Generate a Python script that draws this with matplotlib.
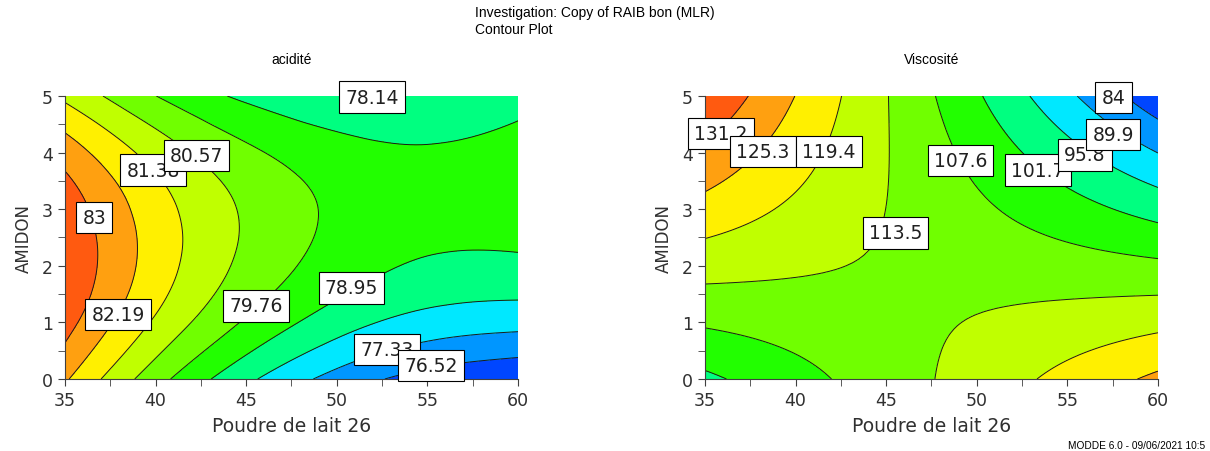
import numpy as np
import matplotlib
matplotlib.use("Agg")
import matplotlib.pyplot as plt
import matplotlib.tri as mtri
from matplotlib.ticker import MultipleLocator

# grille (lignes = AMIDON, colonnes = Poudre de lait 26)
poudre = [35, 40, 45, 50, 55, 60]
amidon = [0, 1, 2, 3, 4, 5]

acidite = [
    [82.30, 80.09, 78.33, 77.03, 76.19, 75.80],
    [83.31, 81.26, 79.66, 78.51, 77.82, 77.59],
    [83.71, 81.81, 80.36, 79.38, 78.84, 78.77],
    [83.49, 81.74, 80.46, 79.62, 79.25, 79.33],
    [82.65, 81.06, 79.93, 79.26, 79.04, 79.27],
    [81.20, 79.77, 78.79, 78.27, 78.21, 78.60],
]
viscosite = [
    [100.50, 105.57, 110.71, 115.91, 121.17, 126.50],
    [108.35, 110.11, 111.93, 113.82, 115.77, 117.79],
    [115.89, 114.34, 112.85, 111.43, 110.07, 108.77],
    [123.13, 118.27, 113.47, 108.73, 104.06, 99.45],
    [130.07, 121.89, 113.78, 105.73, 97.75, 89.83],
    [136.70, 125.21, 113.79, 102.43, 91.13, 79.90],
]

acid_levels = [76.52, 77.33, 78.14, 78.95, 79.76, 80.57, 81.38, 82.19, 83.0]
visc_levels = [84.0, 89.9, 95.8, 101.7, 107.6, 113.5, 119.4, 125.3, 131.2]

couleurs = ['#0046ff', '#0096ff', '#00e8ff', '#00ff80', '#22ff00',
            '#70ff00', '#c0ff00', '#fff000', '#ffa010', '#ff5a10']

# positions des etiquettes (coordonnees des donnees)
pos_acid = {83.0: (36.62, 2.85), 82.19: (37.94, 1.14), 81.38: (39.86, 3.69),
            80.57: (42.26, 3.95), 79.76: (45.53, 1.29), 78.95: (50.81, 1.61),
            78.14: (51.95, 4.98), 77.33: (52.78, 0.52), 76.52: (55.19, 0.24)}
pos_visc = {131.2: (35.89, 4.34), 125.3: (38.2, 4.02), 119.4: (41.83, 4.02),
            113.5: (45.52, 2.58), 107.6: (49.1, 3.86), 101.7: (53.37, 3.69),
            95.8: (55.97, 3.96), 89.9: (57.53, 4.32), 84.0: (57.54, 4.97)}


def triangulation():
    X, Y = np.meshgrid(poudre, amidon)
    nx = len(poudre)
    tris = []
    for j in range(len(amidon) - 1):
        for i in range(nx - 1):
            a = j * nx + i
            tris.append([a, a + 1, a + nx + 1])
            tris.append([a, a + nx + 1, a + nx])
    return mtri.Triangulation(X.ravel().astype(float), Y.ravel().astype(float), tris)


def tracer(ax, z, levels, positions, titre):
    tri = triangulation()
    refiner = mtri.UniformTriRefiner(tri)
    tri_f, z_f = refiner.refine_field(np.ravel(z), subdiv=4)
    bornes = [min(z_f.min(), levels[0]) - 10] + levels + [max(z_f.max(), levels[-1]) + 10]
    ax.tricontourf(tri_f, z_f, levels=bornes, colors=couleurs)
    ax.tricontour(tri_f, z_f, levels=levels, colors='#1a1a1a', linewidths=0.7)

    for k, niveau in enumerate(sorted(levels, reverse=True)):
        x, y = positions[niveau]
        ax.text(x, y, f'{niveau:g}', ha='center', va='center', fontsize=13.5,
                color='#202020', zorder=5 + k, clip_on=False,
                bbox=dict(boxstyle='square,pad=0.33', fc='white', ec='black', lw=0.8))

    ax.set_xlim(35, 60)
    ax.set_ylim(0, 5)
    ax.xaxis.set_major_locator(MultipleLocator(5))
    ax.xaxis.set_minor_locator(MultipleLocator(2.5))
    ax.yaxis.set_major_locator(MultipleLocator(1))
    ax.yaxis.set_minor_locator(MultipleLocator(0.5))
    ax.tick_params(which='both', direction='out', length=5, color='#404040',
                   labelsize=12.5, labelcolor='#303030')
    for s in ['top', 'right']:
        ax.spines[s].set_visible(False)
    for s in ['left', 'bottom']:
        ax.spines[s].set_color('#404040')
    ax.set_xlabel('Poudre de lait 26', fontsize=13.5, labelpad=5, color='#303030')
    ax.set_ylabel('AMIDON', fontsize=12, labelpad=7, color='#303030')
    ax.set_title(titre, fontsize=10, family='Liberation Sans', pad=24)


fig = plt.figure(figsize=(12.1, 4.52), dpi=100)
ax1 = fig.add_axes([0.0537, 0.1593, 0.3744, 0.6261])
ax2 = fig.add_axes([0.5826, 0.1593, 0.3744, 0.6261])

tracer(ax1, acidite, acid_levels, pos_acid, 'acidité')
tracer(ax2, viscosite, visc_levels, pos_visc, 'Viscosité')

fig.text(0.3926, 0.971, 'Investigation: Copy of RAIB bon (MLR)', fontsize=10,
         family='Liberation Sans', va='center', ha='left')
fig.text(0.3926, 0.934, 'Contour Plot', fontsize=10,
         family='Liberation Sans', va='center', ha='left')
fig.text(0.8826, 0.013, 'MODDE 6.0 - 09/06/2021 10:5', fontsize=7.3,
         family='Liberation Sans', va='center', ha='left')

fig.savefig('out.png', dpi=100)
